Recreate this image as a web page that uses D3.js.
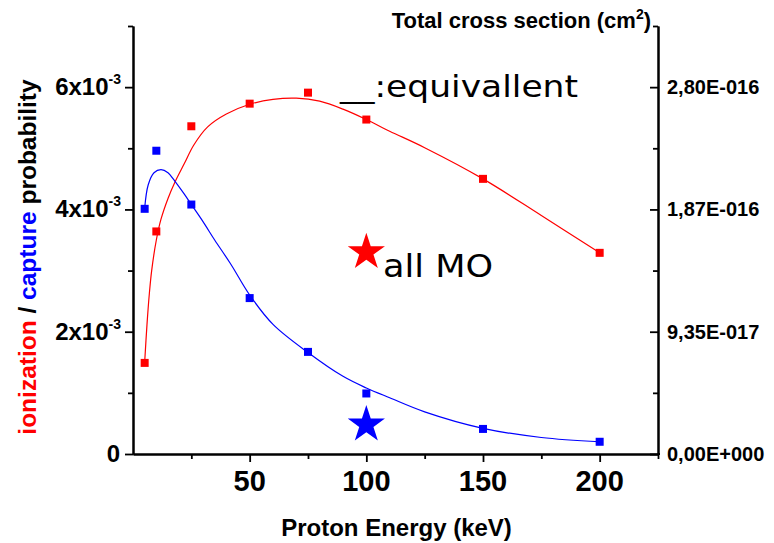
<!DOCTYPE html>
<html>
<head>
<meta charset="UTF-8">
<title>ionization / capture probability</title>
<script src="https://d3js.org/d3.v7.min.js"></script>
<style>
  body { margin: 0; background: #fff; }
  svg text { font-family: Arial, "Liberation Sans", sans-serif; font-weight: bold; }
  .note { font-family: "DejaVu Sans", sans-serif !important; font-weight: normal !important; }
</style>
</head>
<body>
<svg width="774" height="543"></svg>
<script>
// measured points
const energy     = [5, 10, 25, 50, 75, 100, 150, 200];
const ionization = [1.49e-3, 3.64e-3, 5.36e-3, 5.73e-3, 5.91e-3, 5.47e-3, 4.50e-3, 3.29e-3];
const capture    = [4.01e-3, 4.96e-3, 4.08e-3, 2.55e-3, 1.67e-3, 0.99e-3, 0.41e-3, 0.20e-3];

// fitted curves
const ionFitE = [5, 6, 7, 8, 10, 12, 15, 18, 22, 26, 32, 40, 50, 60, 70, 80, 90, 100, 110, 125, 150, 175, 200];
const ionFit  = [1.50e-3, 2.12e-3, 2.62e-3, 3.00e-3, 3.50e-3, 3.84e-3, 4.18e-3, 4.45e-3, 4.75e-3, 5.05e-3, 5.35e-3,
                 5.56e-3, 5.72e-3, 5.80e-3, 5.82e-3, 5.77e-3, 5.64e-3, 5.47e-3, 5.28e-3, 5.01e-3, 4.50e-3, 3.90e-3, 3.29e-3];
const capFitE = [5, 6.5, 9, 12, 15, 18, 22, 25, 30, 35, 42, 50, 60, 75, 90, 100, 110, 125, 150, 175, 200];
const capFit  = [4.02e-3, 4.40e-3, 4.60e-3, 4.65e-3, 4.60e-3, 4.46e-3, 4.25e-3, 4.08e-3, 3.80e-3, 3.50e-3, 3.10e-3,
                 2.60e-3, 2.12e-3, 1.66e-3, 1.27e-3, 1.08e-3, 0.92e-3, 0.69e-3, 0.42e-3, 0.27e-3, 0.20e-3];

// "all MO" values (stars)
const allMOEnergy = [100];
const allMOIon    = [3.30e-3];
const allMOCap    = [0.48e-3];

// ticks
const xTicks = [50, 100, 150, 200];
const xMinor = [25, 75, 125, 175, 225];
const yTicks = [0, 2e-3, 4e-3, 6e-3];
const yTickLabels = [["0", ""], ["2x10", "-3"], ["4x10", "-3"], ["6x10", "-3"]];
const yMinor = [1e-3, 3e-3, 5e-3, 7e-3];
const rTicks = [0, 9.35e-17, 1.87e-16, 2.805e-16];
const rTickLabels = ["0,00E+000", "9,35E-017", "1,87E-016", "2,80E-016"];
const rMinor = [4.675e-17, 1.4025e-16, 2.3375e-16, 3.2725e-16];

const RED = "#ff0000", BLUE = "#0000ff";

const svg = d3.select("svg");
const pLeft = 133, pRight = 658, pTop = 26, pBottom = 454;

const x = d3.scaleLinear().domain([0, 225]).range([pLeft, pRight]);
const y = d3.scaleLinear().domain([0, 7e-3]).range([pBottom, pTop]);
const yR = d3.scaleLinear().domain([0, 3.2725e-16]).range([pBottom, pTop]);

function styleAxis(g) {
  g.select(".domain").attr("stroke", "#000").attr("stroke-width", 2);
  g.selectAll(".tick line").attr("stroke", "#000").attr("stroke-width", 1.8);
  g.selectAll(".tick text").remove();
}

// minor ticks first
svg.append("g").attr("transform", `translate(0,${pBottom})`)
   .call(d3.axisBottom(x).tickValues(xMinor).tickSize(5).tickSizeOuter(0)).call(styleAxis);
svg.append("g").attr("transform", `translate(${pLeft},0)`)
   .call(d3.axisLeft(y).tickValues(yMinor).tickSize(5).tickSizeOuter(0)).call(styleAxis);
svg.append("g").attr("transform", `translate(${pRight},0)`)
   .call(d3.axisLeft(yR).tickValues(rMinor).tickSize(5).tickSizeOuter(0)).call(styleAxis);

// major ticks
svg.append("g").attr("transform", `translate(0,${pBottom})`)
   .call(d3.axisBottom(x).tickValues(xTicks).tickSize(8).tickSizeOuter(0)).call(styleAxis);
svg.append("g").attr("transform", `translate(${pLeft},0)`)
   .call(d3.axisLeft(y).tickValues(yTicks).tickSize(8).tickSizeOuter(0)).call(styleAxis);
svg.append("g").attr("transform", `translate(${pRight},0)`)
   .call(d3.axisLeft(yR).tickValues(rTicks).tickSize(8).tickSizeOuter(0)).call(styleAxis);
// small outward stub at the right axis bottom
svg.append("line").attr("x1", pRight).attr("x2", pRight + 2).attr("y1", yR(0)).attr("y2", yR(0))
   .attr("stroke", "#000").attr("stroke-width", 1.8);

// tick labels
svg.append("g").selectAll("text").data(xTicks).join("text")
   .attr("x", d => x(d)).attr("y", pBottom + 37)
   .attr("text-anchor", "middle").attr("font-size", 29)
   .text(d => d);

const yl = svg.append("g").selectAll("text").data(yTicks).join("text")
   .attr("x", d => d === 0 ? 120 : 121).attr("y", d => y(d) + 8)
   .attr("text-anchor", "end").attr("font-size", 24);
yl.append("tspan").text((d, i) => yTickLabels[i][0]);
yl.append("tspan").attr("dy", -11).attr("font-size", 14).text((d, i) => yTickLabels[i][1]);

svg.append("g").selectAll("text").data(rTicks).join("text")
   .attr("x", pRight + 9).attr("y", d => yR(d) + 7)
   .attr("font-size", 20)
   .text((d, i) => rTickLabels[i]);

// axis titles
svg.append("text").attr("x", (pLeft + pRight) / 2 + 1).attr("y", 536)
   .attr("text-anchor", "middle").attr("font-size", 24)
   .text("Proton Energy (keV)");

const rt = svg.append("text").attr("x", 651).attr("y", 28)
   .attr("text-anchor", "end").attr("font-size", 22);
rt.append("tspan").text("Total cross section (cm");
rt.append("tspan").attr("dy", -9).attr("font-size", 14).text("2");
rt.append("tspan").attr("dy", 9).text(")");

const yt = svg.append("text").attr("transform", "translate(36,257) rotate(-90)")
   .attr("text-anchor", "middle").attr("font-size", 24.5);
yt.append("tspan").attr("fill", RED).text("ionization");
yt.append("tspan").attr("fill", "#000").text(" / ");
yt.append("tspan").attr("fill", BLUE).text("capture");
yt.append("tspan").attr("fill", "#000").text(" probability");

// fitted curves
const line = d3.line().x(d => x(d[0])).y(d => y(d[1])).curve(d3.curveCatmullRom.alpha(0.5));
svg.append("path").datum(d3.zip(ionFitE, ionFit)).attr("d", line)
   .attr("fill", "none").attr("stroke", RED).attr("stroke-width", 1.2);
svg.append("path").datum(d3.zip(capFitE, capFit)).attr("d", line)
   .attr("fill", "none").attr("stroke", BLUE).attr("stroke-width", 1.2);

// square markers
const sq = 8;
svg.append("g").selectAll("rect").data(d3.zip(energy, ionization)).join("rect")
   .attr("x", d => x(d[0]) - sq / 2).attr("y", d => y(d[1]) - sq / 2)
   .attr("width", sq).attr("height", sq).attr("fill", RED);
svg.append("g").selectAll("rect").data(d3.zip(energy, capture)).join("rect")
   .attr("x", d => x(d[0]) - sq / 2).attr("y", d => y(d[1]) - sq / 2)
   .attr("width", sq).attr("height", sq).attr("fill", BLUE);

// stars (all MO)
const star = d3.symbol().type(d3.symbolStar).size(430);
svg.append("g").selectAll("path").data(d3.zip(allMOEnergy, allMOIon)).join("path")
   .attr("d", star).attr("transform", d => `translate(${x(d[0])},${y(d[1])})`).attr("fill", RED);
svg.append("g").selectAll("path").data(d3.zip(allMOEnergy, allMOCap)).join("path")
   .attr("d", star).attr("transform", d => `translate(${x(d[0])},${y(d[1])})`).attr("fill", BLUE);

// annotations
svg.append("text").attr("class", "note").attr("x", 340).attr("y", 97)
   .attr("font-size", 30).attr("textLength", 238).attr("lengthAdjust", "spacingAndGlyphs")
   .text("__:equivallent");
svg.append("text").attr("class", "note").attr("x", 383).attr("y", 277)
   .attr("font-size", 32).attr("textLength", 110).attr("lengthAdjust", "spacingAndGlyphs")
   .text("all MO");
</script>
</body>
</html>
